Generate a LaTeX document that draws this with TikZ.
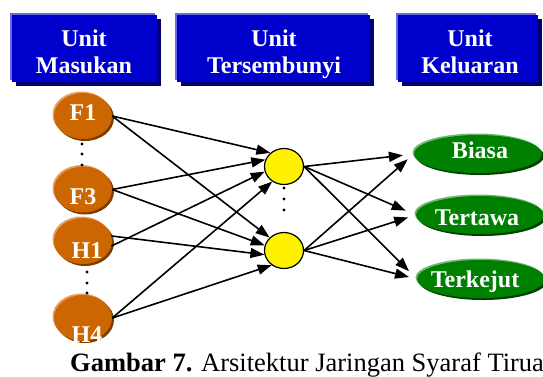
\documentclass[tikz,border=0pt]{standalone}
\usepackage{fontspec}
\setmainfont{Liberation Serif}
\usetikzlibrary{shapes.geometric,arrows.meta,shadows}
\definecolor{boxblue}{HTML}{0000CC}
\definecolor{boxdark}{HTML}{000070}
\definecolor{boxlight}{HTML}{6A6AE0}
\definecolor{ballorange}{HTML}{CC6600}
\definecolor{balldark}{HTML}{7A3D00}
\definecolor{balllight}{HTML}{E8A060}
\definecolor{ballgreen}{HTML}{008000}
\definecolor{greendark}{HTML}{004000}
\definecolor{greenlight}{HTML}{70B870}

\begin{document}
\begin{tikzpicture}[x=1pt,y=-1pt,
		unitbox/.style={fill=boxblue, minimum height=67pt, inner sep=0pt,
			general shadow={shadow xshift=4pt, shadow yshift=-4pt, fill=boxdark},
			general shadow={shadow xshift=-2pt, shadow yshift=2pt, fill=boxlight}},
		unittext/.style={anchor=north, text=white, align=center, inner sep=0pt, font=\fontsize{24}{27.5}\selectfont\bfseries},
		inball/.style={ellipse, fill=ballorange, minimum width=58pt, minimum height=46pt, inner sep=0pt,
			general shadow={shadow xshift=2pt, shadow yshift=-2pt, fill=balldark},
			general shadow={shadow xshift=-1.5pt, shadow yshift=1.5pt, fill=balllight}},
		hidball/.style={ellipse, draw, line width=1.2pt, fill=yellow, minimum width=39pt, minimum height=36pt, inner sep=0pt},
		outball/.style={ellipse, fill=ballgreen, minimum width=128pt, minimum height=38pt, inner sep=0pt,
			general shadow={shadow xshift=2pt, shadow yshift=-2pt, fill=greendark},
			general shadow={shadow xshift=-1.5pt, shadow yshift=1.5pt, fill=greenlight}},
		balltext/.style={anchor=base, text=white, inner sep=0pt, font=\fontsize{24}{26}\selectfont\bfseries},
		conn/.style={line width=1.6pt, -{Triangle[length=14pt,width=10pt]}}]
	\useasboundingbox (0,0) rectangle (543,376);
	\clip (0,0) rectangle (543,376);

	\node[unitbox, minimum width=145pt] (masukan)     at (84.5,48.5) {};
	\node[unitbox, minimum width=193pt] (tersembunyi) at (273.5,48.5) {};
	\node[unitbox, minimum width=140pt] (keluaran)    at (468,48.5) {};
	\node[unittext] (masukan-t)     at (84,29.5) {Unit\\Masukan};
	\node[unittext] (tersembunyi-t) at (274,29.5) {Unit\\Tersembunyi};
	\node[unittext] (keluaran-t)    at (470,29.5) {Unit\\Keluaran};

	\node[inball] (F1) at (83,116) {};
	\node[inball] (F3) at (83,189.5) {};
	\node[inball] (H1) at (83,241) {};
	\node[inball] (H4) at (83,318) {};
	\node[balltext] (F1-t) at (83,120) {F1};
	\node[balltext] (F3-t) at (83,204) {F3};
	\node[balltext] (H1-t) at (87,258) {H1};
	\node[balltext] (H4-t) at (87,342) {H4};
	\foreach \y in {144,154,165} \fill (82,\y) circle (1.6);
	\foreach \y in {272,283,293} \fill (87,\y) circle (1.6);

	\node[hidball] (h1) at (284,166.5) {};
	\node[hidball] (h2) at (284,250.5) {};
	\foreach \y in {188,199,210} \fill (284,\y) circle (1.6);

	\node[outball] (biasa)    at (478,154) {};
	\node[outball] (tertawa)  at (480,215) {};
	\node[outball] (terkejut) at (481,279) {};
	\node[balltext] (biasa-t)    at (480,158) {Biasa};
	\node[balltext] (tertawa-t)  at (477,225) {Tertawa};
	\node[balltext] (terkejut-t) at (475,287) {Terkejut};

	\foreach \s/\p/\q/\a/\b in {F1/east/east/135/138, F3/east/east/160/165, H1/-10/10/195/192, H4/east/east/232/230}
	{
		\draw[conn] (\s.\p) -- (h1.\a);
		\draw[conn] (\s.\q) -- (h2.\b);
	}
	\foreach \o in {biasa,tertawa,terkejut}
	{
		\draw[conn, shorten >=11pt] (h1.east) -- (\o.west);
		\draw[conn, shorten >=8pt]  (h2.east) -- (\o.west);
	}

	\node[anchor=base west, inner sep=0pt, font=\fontsize{26.5}{30}\selectfont] (caption) at (70,371) {\textbf{Gambar 7.} Arsitektur Jaringan Syaraf Tirua};
\end{tikzpicture}
\end{document}
